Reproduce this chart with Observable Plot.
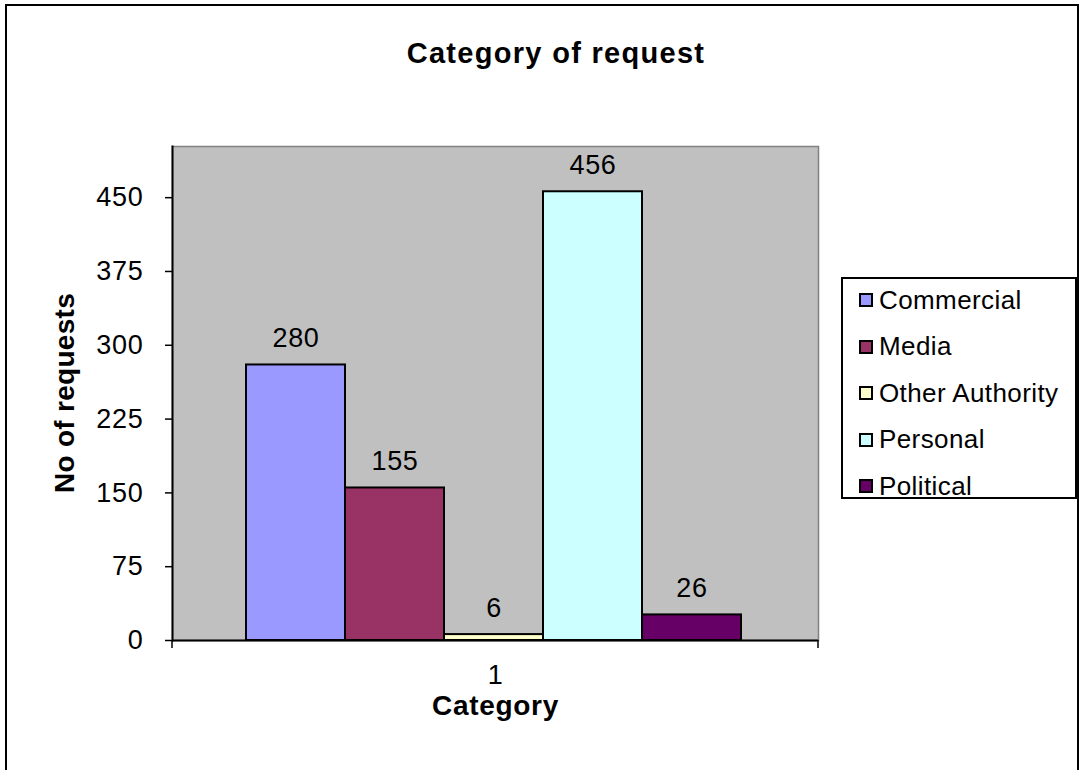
<!DOCTYPE html>
<html>
<head>
<meta charset="utf-8">
<script src="https://cdn.jsdelivr.net/npm/d3@7"></script>
<script src="https://cdn.jsdelivr.net/npm/@observablehq/plot@0.6"></script>
<style>
  html, body { margin: 0; padding: 0; background: #fff; }
  #wrap { position: relative; width: 1084px; height: 770px; overflow: hidden;
          font-family: "Liberation Sans", Arial, sans-serif; color: #000; }
  #border { position: absolute; left: 5px; top: 4px; width: 1074px; height: 820px;
            box-sizing: border-box; border: 2px solid #000; }
  #chart { position: absolute; left: 0; top: 0; }
  .t { position: absolute; white-space: nowrap; line-height: 1; }
  #title { left: 556px; top: 38.5px; transform: translateX(-50%);
           font-size: 29px; font-weight: bold; letter-spacing: 1.3px; }
  #ytitle { left: 65px; top: 393px; transform: translate(-50%, -50%) rotate(-90deg);
            font-size: 28px; font-weight: bold; letter-spacing: 0.3px; }
  #legend { position: absolute; left: 841px; top: 277px; width: 236px; height: 222px;
            box-sizing: border-box; border: 2px solid #000; background: #fff; }
  #legend .inner { position: relative; top: -2px; }
  #legend .row { display: flex; align-items: center; height: 46.5px; padding-left: 16px;
                 font-size: 26px; letter-spacing: 0.4px; white-space: nowrap; }
  #legend .sw { width: 14px; height: 14px; box-sizing: border-box; border: 2px solid #000;
                margin-right: 6px; flex: none; }
</style>
</head>
<body>
<div id="wrap">
  <div id="border"></div>
  <div id="chart"></div>
  <div id="title" class="t"></div>
  <div id="ytitle" class="t"></div>
  <div id="legend"><div class="inner"></div></div>
</div>
<script>
// ---- data ----
const categories = ["Commercial", "Media", "Other Authority", "Personal", "Political"];
const values = [280, 155, 6, 456, 26];
const colors = ["#9999FF", "#993366", "#FFFFCC", "#CCFFFF", "#660066"];
const yTicks = [0, 75, 150, 225, 300, 375, 450];
const groupLabels = ["1"];
const titleText = "Category of request";
const yTitleText = "No of requests";
const xTitleText = "Category";

const data = categories.map((c, i) => ({category: c, value: values[i]}));

const W = 1084, H = 770;
const mL = 172, mR = 266, mT = 146, mB = 130;

const chart = Plot.plot({
  width: W, height: H,
  marginLeft: mL, marginRight: mR, marginTop: mT, marginBottom: mB,
  style: {fontFamily: "Liberation Sans, Arial, sans-serif", background: "transparent",
          letterSpacing: "0.7px", color: "#000"},
  x: {domain: categories, paddingInner: 0, paddingOuter: 0.7626, align: 0.49, axis: null},
  y: {domain: [0, 502], axis: null},
  color: {domain: categories, range: colors},
  marks: [
    Plot.frame({fill: "#C0C0C0", stroke: "#808080", strokeWidth: 1.5}),
    Plot.barY(data, {x: "category", y: "value", fill: "category", stroke: "#000", strokeWidth: 2}),
    Plot.text(data, {x: "category", y: "value", text: d => String(d.value),
                     lineAnchor: "bottom", dy: -18, fontSize: 27, fill: "#000"}),
    Plot.axisY({ticks: yTicks, tickSize: 7, tickPadding: 22, fontSize: 27, label: null,
                tickFormat: d => String(d), stroke: "#000", strokeWidth: 1.5}),
    Plot.frame({anchor: "left", stroke: "#000", strokeWidth: 2}),
    Plot.ruleY([0], {stroke: "#000", strokeWidth: 2}),
    Plot.text(groupLabels, {frameAnchor: "bottom", text: d => d, lineAnchor: "bottom",
                            dy: 43, fontSize: 27, fill: "#000"}),
    Plot.text([xTitleText], {frameAnchor: "bottom", text: d => d, lineAnchor: "bottom",
                             dy: 74, fontSize: 28, fontWeight: "bold", fill: "#000"})
  ]
});

// category boundary ticks on the x axis (Excel style)
const svg = d3.select(chart);
[mL, W - mR].forEach(x => {
  svg.append("line").attr("x1", x).attr("x2", x)
    .attr("y1", H - mB).attr("y2", H - mB + 8)
    .attr("stroke", "#000").attr("stroke-width", 1.5);
});

document.getElementById("chart").appendChild(chart);
document.getElementById("title").textContent = titleText;
document.getElementById("ytitle").textContent = yTitleText;

const inner = d3.select("#legend .inner");
categories.forEach((c, i) => {
  const row = inner.append("div").attr("class", "row");
  row.append("div").attr("class", "sw").style("background", colors[i]);
  row.append("span").text(c);
});
</script>
</body>
</html>
